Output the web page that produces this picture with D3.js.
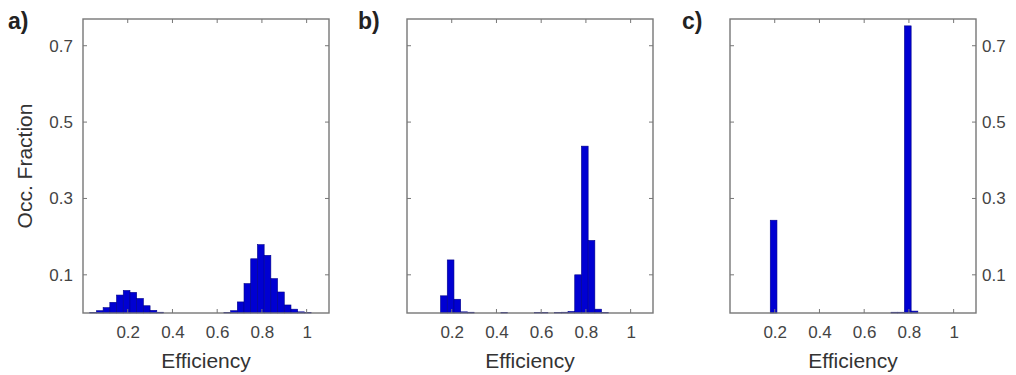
<!DOCTYPE html>
<html>
<head>
<meta charset="utf-8">
<script src="https://cdn.jsdelivr.net/npm/d3@7"></script>
<style>
  html, body { margin: 0; padding: 0; background: #fff; }
  svg { display: block; }
  text { font-family: "Liberation Sans", Arial, sans-serif; }
</style>
</head>
<body>
<svg id="chart" width="1016" height="375"></svg>
<script>
// ---- data ----
const panelLabels = ["a)", "b)", "c)"];
const binStarts = [0.00,0.03,0.06,0.09,0.12,0.15,0.18,0.21,0.24,0.27,0.30,0.33,
                   0.36,0.39,0.42,0.45,0.48,0.51,0.54,0.57,0.60,0.63,0.66,0.69,
                   0.72,0.75,0.78,0.81,0.84,0.87,0.90,0.93,0.96,0.99,1.02,1.05];
const binWidth = 0.03;
const seriesA = [0,0.001,0.006,0.014,0.028,0.047,0.059,0.054,0.038,0.019,0.007,0.002,
                 0,0,0,0,0,0,0,0,0,0.001,0.006,0.029,
                 0.077,0.142,0.179,0.151,0.090,0.055,0.021,0.010,0.003,0.001,0,0];
const seriesB = [0,0,0,0,0,0.045,0.139,0.036,0.003,0.002,0,0,
                 0,0,0.001,0,0,0,0,0.001,0.001,0,0.001,0.002,
                 0.004,0.100,0.437,0.190,0.010,0.001,0,0,0,0,0,0];
const seriesC = [0,0,0,0,0,0,0.243,0,0,0,0,0,
                 0,0,0,0,0,0,0,0,0,0,0,0,
                 0.002,0.002,0.752,0.005,0,0,0,0,0,0,0,0];
const xTicks = [0.2, 0.4, 0.6, 0.8, 1];
const xTickLabels = ["0.2", "0.4", "0.6", "0.8", "1"];
const yTicks = [0.1, 0.3, 0.5, 0.7];
const yTickLabels = ["0.1", "0.3", "0.5", "0.7"];
const xTitle = "Efficiency";
const yTitle = "Occ. Fraction";

(function () {
// ---- layout ----
const svg = d3.select("#chart");
const panels = [
  { left: 83,  series: seriesA, yLabels: "left",  labelX: 8 },
  { left: 407, series: seriesB, yLabels: "none",  labelX: 358 },
  { left: 730, series: seriesC, yLabels: "right", labelX: 682 }
];
const pw = 246, plotTop = 19, plotBottom = 313;
const axisColor = "#777";
const textColor = "#444";

panels.forEach((p, i) => {
  const x = d3.scaleLinear().domain([0, 1.1]).range([p.left, p.left + pw]);
  const y = d3.scaleLinear().domain([0, 0.77]).range([plotBottom, plotTop]);
  const g = svg.append("g");

  // bars
  g.selectAll("rect.bar")
    .data(binStarts.map((b, k) => ({ b, v: p.series[k] })).filter(d => d.v > 0))
    .join("rect")
    .attr("class", "bar")
    .attr("x", d => x(d.b))
    .attr("width", d => x(d.b + binWidth) - x(d.b))
    .attr("y", d => y(d.v))
    .attr("height", d => y(0) - y(d.v))
    .attr("fill", "#0000d2")
    .attr("stroke", "#00008a")
    .attr("stroke-width", 0.6);

  const tl = 4;
  g.append("g").selectAll("line").data(xTicks).join("line")
    .attr("x1", d => x(d)).attr("x2", d => x(d))
    .attr("y1", plotBottom).attr("y2", plotBottom - tl)
    .attr("stroke", axisColor).attr("stroke-width", 1);
  g.append("g").selectAll("line").data(xTicks).join("line")
    .attr("x1", d => x(d)).attr("x2", d => x(d))
    .attr("y1", plotTop).attr("y2", plotTop + tl)
    .attr("stroke", axisColor).attr("stroke-width", 1);
  g.append("g").selectAll("line").data(yTicks).join("line")
    .attr("x1", p.left).attr("x2", p.left + tl)
    .attr("y1", d => y(d)).attr("y2", d => y(d))
    .attr("stroke", axisColor).attr("stroke-width", 1);
  g.append("g").selectAll("line").data(yTicks).join("line")
    .attr("x1", p.left + pw).attr("x2", p.left + pw - tl)
    .attr("y1", d => y(d)).attr("y2", d => y(d))
    .attr("stroke", axisColor).attr("stroke-width", 1);

  // x tick labels via axis
  const xAxisG = g.append("g")
    .attr("transform", `translate(0,${plotBottom})`)
    .call(d3.axisBottom(x).tickValues(xTicks).tickSize(0).tickPadding(0)
      .tickFormat((d, k) => xTickLabels[k]));
  xAxisG.select(".domain").remove();
  xAxisG.selectAll("text")
    .attr("y", 25).attr("dy", 0)
    .attr("font-size", 17).attr("fill", textColor)
    .attr("font-family", "Liberation Sans, Arial, sans-serif");

  // y tick labels
  if (p.yLabels !== "none") {
    const isLeft = p.yLabels === "left";
    const yAxisG = g.append("g")
      .attr("transform", `translate(${isLeft ? p.left : p.left + pw},0)`)
      .call((isLeft ? d3.axisLeft(y) : d3.axisRight(y)).tickValues(yTicks)
        .tickSize(0).tickPadding(isLeft ? 10 : 6)
        .tickFormat((d, k) => yTickLabels[k]));
    yAxisG.select(".domain").remove();
    yAxisG.selectAll("text")
      .attr("font-size", 17).attr("fill", textColor)
      .attr("font-family", "Liberation Sans, Arial, sans-serif");
  }

  // box
  g.append("rect")
    .attr("x", p.left).attr("y", plotTop)
    .attr("width", pw).attr("height", plotBottom - plotTop)
    .attr("fill", "none").attr("stroke", axisColor).attr("stroke-width", 1.4);

  // x title
  g.append("text")
    .attr("x", p.left + pw / 2).attr("y", 368)
    .attr("text-anchor", "middle")
    .attr("font-size", 21).attr("fill", "#333")
    .text(xTitle);

  // panel label
  g.append("text")
    .attr("x", p.labelX).attr("y", 29)
    .attr("font-size", 23).attr("font-weight", "bold").attr("fill", "#222")
    .text(panelLabels[i]);
});

// y title
svg.append("text")
  .attr("transform", "translate(32,166) rotate(-90)")
  .attr("text-anchor", "middle")
  .attr("font-size", 21).attr("fill", "#333")
  .text(yTitle);
})();
</script>
</body>
</html>
